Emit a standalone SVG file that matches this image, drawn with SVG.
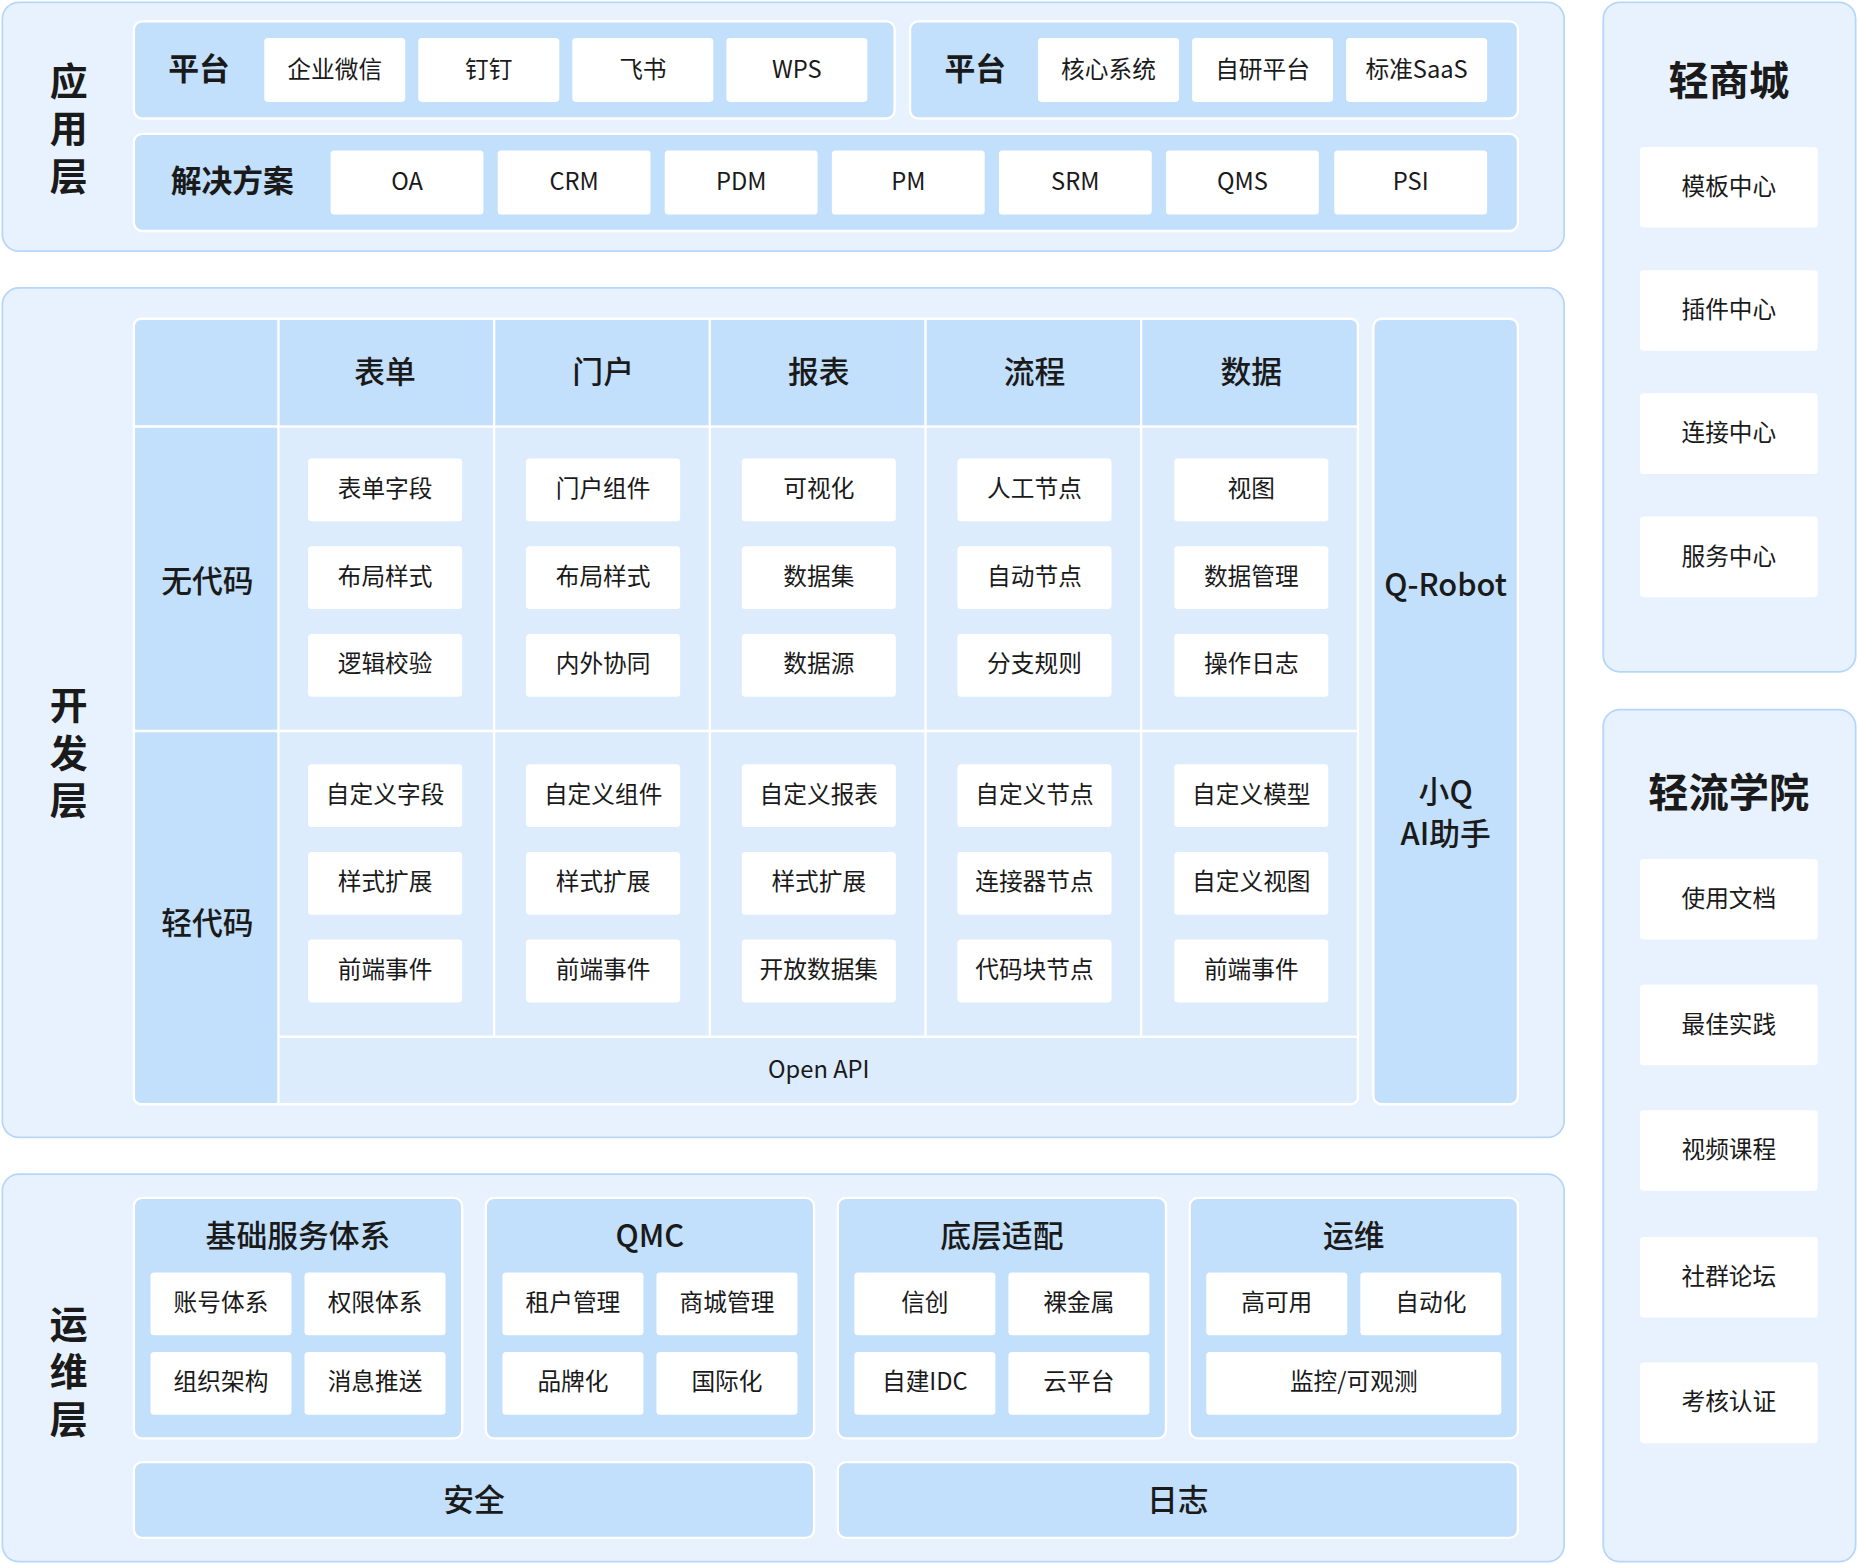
<svg xmlns="http://www.w3.org/2000/svg" width="1858" height="1564" viewBox="0 0 1858 1564">
<style>
text{font-family:"Noto Sans CJK SC","Noto Sans",sans-serif;fill:#1a1a1a;text-anchor:middle;dominant-baseline:central}
.layer{fill:#e8f2fe;stroke:#b6d6fa;stroke-width:1.5}
.sec{fill:#c2dffb;stroke:#ffffff;stroke-width:2}
.cell{fill:#dcecfd}
.item{fill:#ffffff}
.grid{stroke:#ffffff;stroke-width:2;fill:none}
.lbl{font-size:32px;font-weight:700;writing-mode:vertical-rl;letter-spacing:8px}
.ttl{font-size:34px;font-weight:700}
.hd{font-size:26px;font-weight:500}
.hb{font-size:26px;font-weight:700}
.it{font-size:20px;font-weight:400}
</style>
<defs>
<clipPath id="gclip"><rect x="113" y="269" width="1033" height="663" rx="6"/></clipPath>
</defs>
<rect width="1858" height="1564" fill="#ffffff"/>
<g transform="scale(1.18495,1.18485)">
<!-- 应用层 -->
<g id="layer-app">
<rect class="layer" x="2" y="2" width="1318" height="210" rx="14"/>
<text class="lbl" x="58" y="112">应用层</text>
</g>
<g id="platform-1">
<rect class="sec" x="113" y="18" width="642" height="82" rx="7"/>
<text class="hb" x="168" y="56">平台</text>
<rect class="item" x="223" y="32" width="119" height="54" rx="3"/><text class="it" x="282.5" y="57">企业微信</text>
<rect class="item" x="353" y="32" width="119" height="54" rx="3"/><text class="it" x="412.5" y="57">钉钉</text>
<rect class="item" x="483" y="32" width="119" height="54" rx="3"/><text class="it" x="542.5" y="57">飞书</text>
<rect class="item" x="613" y="32" width="119" height="54" rx="3"/><text class="it" x="672.5" y="57">WPS</text>
</g>
<g id="platform-2">
<rect class="sec" x="768" y="18" width="513" height="82" rx="7"/>
<text class="hb" x="823" y="56">平台</text>
<rect class="item" x="876" y="32" width="119" height="54" rx="3"/><text class="it" x="935.5" y="57">核心系统</text>
<rect class="item" x="1006" y="32" width="119" height="54" rx="3"/><text class="it" x="1065.5" y="57">自研平台</text>
<rect class="item" x="1136" y="32" width="119" height="54" rx="3"/><text class="it" x="1195.5" y="57">标准SaaS</text>
</g>
<g id="solutions">
<rect class="sec" x="113" y="113" width="1168" height="82" rx="7"/>
<text class="hd" x="196" y="151" style="font-weight:600">解决方案</text>
<rect class="item" x="279" y="127" width="129" height="54" rx="3"/><text class="it" x="343.5" y="152">OA</text>
<rect class="item" x="420" y="127" width="129" height="54" rx="3"/><text class="it" x="484.5" y="152">CRM</text>
<rect class="item" x="561" y="127" width="129" height="54" rx="3"/><text class="it" x="625.5" y="152">PDM</text>
<rect class="item" x="702" y="127" width="129" height="54" rx="3"/><text class="it" x="766.5" y="152">PM</text>
<rect class="item" x="843" y="127" width="129" height="54" rx="3"/><text class="it" x="907.5" y="152">SRM</text>
<rect class="item" x="984" y="127" width="129" height="54" rx="3"/><text class="it" x="1048.5" y="152">QMS</text>
<rect class="item" x="1126" y="127" width="129" height="54" rx="3"/><text class="it" x="1190.5" y="152">PSI</text>
</g>

<!-- 开发层 -->
<g id="layer-dev">
<rect class="layer" x="2" y="243" width="1318" height="717" rx="14"/>
<text class="lbl" x="58" y="639">开发层</text>
</g>
<g id="dev-grid">
<g clip-path="url(#gclip)">
<rect class="cell" x="113" y="269" width="1033" height="663"/>
<rect fill="#c2dffb" x="113" y="269" width="1033" height="91"/>
<rect fill="#c2dffb" x="113" y="360" width="122" height="572"/>
</g>
<path class="grid" d="M113 360H1146M113 617H1146M235 875H1146M235 269V932M417 269V875M599 269V875M781 269V875M963 269V875"/>
<rect x="113" y="269" width="1033" height="663" rx="6" fill="none" stroke="#ffffff" stroke-width="2"/>
<text class="hd" x="325" y="312">表单</text>
<text class="hd" x="509" y="312">门户</text>
<text class="hd" x="691" y="312">报表</text>
<text class="hd" x="873" y="312">流程</text>
<text class="hd" x="1056" y="312">数据</text>
<text class="hd" x="175" y="488">无代码</text>
<text class="hd" x="175" y="777">轻代码</text>
<text class="it" x="691" y="901">Open API</text>
</g>
<g id="col-form">
<rect class="item" x="260" y="387" width="130" height="53" rx="3"/><text class="it" x="325" y="411">表单字段</text>
<rect class="item" x="260" y="461" width="130" height="53" rx="3"/><text class="it" x="325" y="485">布局样式</text>
<rect class="item" x="260" y="535" width="130" height="53" rx="3"/><text class="it" x="325" y="559">逻辑校验</text>
<rect class="item" x="260" y="645" width="130" height="53" rx="3"/><text class="it" x="325" y="669">自定义字段</text>
<rect class="item" x="260" y="719" width="130" height="53" rx="3"/><text class="it" x="325" y="743">样式扩展</text>
<rect class="item" x="260" y="793" width="130" height="53" rx="3"/><text class="it" x="325" y="817">前端事件</text>
</g>
<g id="col-portal">
<rect class="item" x="444" y="387" width="130" height="53" rx="3"/><text class="it" x="509" y="411">门户组件</text>
<rect class="item" x="444" y="461" width="130" height="53" rx="3"/><text class="it" x="509" y="485">布局样式</text>
<rect class="item" x="444" y="535" width="130" height="53" rx="3"/><text class="it" x="509" y="559">内外协同</text>
<rect class="item" x="444" y="645" width="130" height="53" rx="3"/><text class="it" x="509" y="669">自定义组件</text>
<rect class="item" x="444" y="719" width="130" height="53" rx="3"/><text class="it" x="509" y="743">样式扩展</text>
<rect class="item" x="444" y="793" width="130" height="53" rx="3"/><text class="it" x="509" y="817">前端事件</text>
</g>
<g id="col-report">
<rect class="item" x="626" y="387" width="130" height="53" rx="3"/><text class="it" x="691" y="411">可视化</text>
<rect class="item" x="626" y="461" width="130" height="53" rx="3"/><text class="it" x="691" y="485">数据集</text>
<rect class="item" x="626" y="535" width="130" height="53" rx="3"/><text class="it" x="691" y="559">数据源</text>
<rect class="item" x="626" y="645" width="130" height="53" rx="3"/><text class="it" x="691" y="669">自定义报表</text>
<rect class="item" x="626" y="719" width="130" height="53" rx="3"/><text class="it" x="691" y="743">样式扩展</text>
<rect class="item" x="626" y="793" width="130" height="53" rx="3"/><text class="it" x="691" y="817">开放数据集</text>
</g>
<g id="col-flow">
<rect class="item" x="808" y="387" width="130" height="53" rx="3"/><text class="it" x="873" y="411">人工节点</text>
<rect class="item" x="808" y="461" width="130" height="53" rx="3"/><text class="it" x="873" y="485">自动节点</text>
<rect class="item" x="808" y="535" width="130" height="53" rx="3"/><text class="it" x="873" y="559">分支规则</text>
<rect class="item" x="808" y="645" width="130" height="53" rx="3"/><text class="it" x="873" y="669">自定义节点</text>
<rect class="item" x="808" y="719" width="130" height="53" rx="3"/><text class="it" x="873" y="743">连接器节点</text>
<rect class="item" x="808" y="793" width="130" height="53" rx="3"/><text class="it" x="873" y="817">代码块节点</text>
</g>
<g id="col-data">
<rect class="item" x="991" y="387" width="130" height="53" rx="3"/><text class="it" x="1056" y="411">视图</text>
<rect class="item" x="991" y="461" width="130" height="53" rx="3"/><text class="it" x="1056" y="485">数据管理</text>
<rect class="item" x="991" y="535" width="130" height="53" rx="3"/><text class="it" x="1056" y="559">操作日志</text>
<rect class="item" x="991" y="645" width="130" height="53" rx="3"/><text class="it" x="1056" y="669">自定义模型</text>
<rect class="item" x="991" y="719" width="130" height="53" rx="3"/><text class="it" x="1056" y="743">自定义视图</text>
<rect class="item" x="991" y="793" width="130" height="53" rx="3"/><text class="it" x="1056" y="817">前端事件</text>
</g>
<g id="q-robot">
<rect class="sec" x="1159" y="269" width="122" height="663" rx="7"/>
<text class="hd" x="1220" y="492">Q-Robot</text>
<text class="hd" x="1220" y="666"><tspan x="1220" y="666">小Q</tspan><tspan x="1220" y="701">AI助手</tspan></text>
</g>

<!-- 运维层 -->
<g id="layer-ops">
<rect class="layer" x="2" y="991" width="1318" height="327" rx="14"/>
<text class="lbl" x="58" y="1161">运维层</text>
</g>
<g id="ops-base">
<rect class="sec" x="113" y="1011" width="277" height="203" rx="7"/>
<text class="hd" x="251.5" y="1041">基础服务体系</text>
<rect class="item" x="127" y="1074" width="119" height="53" rx="3"/><text class="it" x="186.5" y="1098">账号体系</text>
<rect class="item" x="257" y="1074" width="119" height="53" rx="3"/><text class="it" x="316.5" y="1098">权限体系</text>
<rect class="item" x="127" y="1141" width="119" height="53" rx="3"/><text class="it" x="186.5" y="1165">组织架构</text>
<rect class="item" x="257" y="1141" width="119" height="53" rx="3"/><text class="it" x="316.5" y="1165">消息推送</text>
</g>
<g id="ops-qmc">
<rect class="sec" x="410" y="1011" width="277" height="203" rx="7"/>
<text class="hd" x="548.5" y="1041">QMC</text>
<rect class="item" x="424" y="1074" width="119" height="53" rx="3"/><text class="it" x="483.5" y="1098">租户管理</text>
<rect class="item" x="554" y="1074" width="119" height="53" rx="3"/><text class="it" x="613.5" y="1098">商城管理</text>
<rect class="item" x="424" y="1141" width="119" height="53" rx="3"/><text class="it" x="483.5" y="1165">品牌化</text>
<rect class="item" x="554" y="1141" width="119" height="53" rx="3"/><text class="it" x="613.5" y="1165">国际化</text>
</g>
<g id="ops-adapt">
<rect class="sec" x="707" y="1011" width="277" height="203" rx="7"/>
<text class="hd" x="845.5" y="1041">底层适配</text>
<rect class="item" x="721" y="1074" width="119" height="53" rx="3"/><text class="it" x="780.5" y="1098">信创</text>
<rect class="item" x="851" y="1074" width="119" height="53" rx="3"/><text class="it" x="910.5" y="1098">裸金属</text>
<rect class="item" x="721" y="1141" width="119" height="53" rx="3"/><text class="it" x="780.5" y="1165">自建IDC</text>
<rect class="item" x="851" y="1141" width="119" height="53" rx="3"/><text class="it" x="910.5" y="1165">云平台</text>
</g>
<g id="ops-om">
<rect class="sec" x="1004" y="1011" width="277" height="203" rx="7"/>
<text class="hd" x="1142.5" y="1041">运维</text>
<rect class="item" x="1018" y="1074" width="119" height="53" rx="3"/><text class="it" x="1077.5" y="1098">高可用</text>
<rect class="item" x="1148" y="1074" width="119" height="53" rx="3"/><text class="it" x="1207.5" y="1098">自动化</text>
<rect class="item" x="1018" y="1141" width="249" height="53" rx="3"/><text class="it" x="1142.5" y="1165">监控/可观测</text>
</g>
<g id="ops-security">
<rect class="sec" x="113" y="1234" width="574" height="64" rx="7"/>
<text class="hd" x="400" y="1264">安全</text>
</g>
<g id="ops-log">
<rect class="sec" x="707" y="1234" width="574" height="64" rx="7"/>
<text class="hd" x="994" y="1264">日志</text>
</g>

<!-- 右侧 -->
<g id="light-mall">
<rect class="layer" x="1353" y="2" width="213" height="565" rx="14"/>
<text class="ttl" x="1459" y="65">轻商城</text>
<rect class="item" x="1384" y="124" width="150" height="68" rx="3"/><text class="it" x="1459" y="156">模板中心</text>
<rect class="item" x="1384" y="228" width="150" height="68" rx="3"/><text class="it" x="1459" y="260">插件中心</text>
<rect class="item" x="1384" y="332" width="150" height="68" rx="3"/><text class="it" x="1459" y="364">连接中心</text>
<rect class="item" x="1384" y="436" width="150" height="68" rx="3"/><text class="it" x="1459" y="468">服务中心</text>
</g>
<g id="academy">
<rect class="layer" x="1353" y="599" width="213" height="719" rx="14"/>
<text class="ttl" x="1459" y="666">轻流学院</text>
<rect class="item" x="1384" y="725" width="150" height="68" rx="3"/><text class="it" x="1459" y="757">使用文档</text>
<rect class="item" x="1384" y="831" width="150" height="68" rx="3"/><text class="it" x="1459" y="863">最佳实践</text>
<rect class="item" x="1384" y="937" width="150" height="68" rx="3"/><text class="it" x="1459" y="969">视频课程</text>
<rect class="item" x="1384" y="1044" width="150" height="68" rx="3"/><text class="it" x="1459" y="1076">社群论坛</text>
<rect class="item" x="1384" y="1150" width="150" height="68" rx="3"/><text class="it" x="1459" y="1182">考核认证</text>
</g>
<g id="connectors"/>
</g>
</svg>
